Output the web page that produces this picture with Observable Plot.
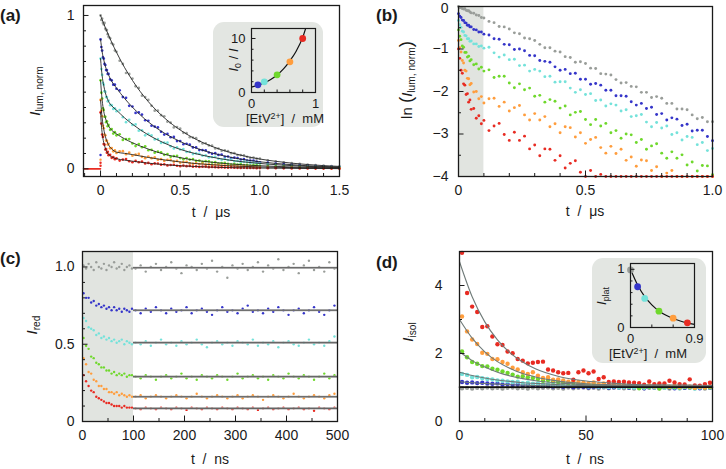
<!DOCTYPE html>
<html><head><meta charset="utf-8">
<script src="https://cdn.jsdelivr.net/npm/d3@7"></script>
<script src="https://cdn.jsdelivr.net/npm/@observablehq/plot@0.6"></script>
<style>
body{margin:0;background:#fff;}
#root{position:relative;width:726px;height:469px;overflow:hidden;background:#fff;font-family:"Liberation Sans",Arial,Helvetica,sans-serif;color:#1a1a1a;}
#root svg{position:absolute;overflow:visible;}
.box{position:absolute;background:#e3e6e2;border-radius:11px;}
.lbl{position:absolute;white-space:nowrap;font-size:14px;line-height:1;transform:translate(-50%,-50%);}
.rot{transform:translate(-50%,-50%) rotate(-90deg);}
.pl{position:absolute;font-weight:bold;font-size:17px;line-height:1;}
.lbl sub{font-size:68%;position:relative;top:0.3em;vertical-align:baseline;}
.lbl sup{font-size:68%;position:relative;top:-0.45em;vertical-align:baseline;}
.big{font-size:125%;}
</style>
</head><body>
<div id="root"></div>
<script>
// ---------- series ----------
const seriesNames = ["grey","blue","cyan","green","orange","red"];
const seriesColors = ["#999d99","#3535c9","#74e2da","#6fd82c","#ff9d3d","#e82b22"];

// ---------- panel (b): ln(I_lum,norm) vs t / µs ----------
const tB = [0,0.005,0.01,0.015,0.02,0.025,0.03,0.035,0.04,0.045,0.05,0.06,0.07,0.08,0.09,0.1,
 0.12,0.14,0.16,0.18,0.2,0.22,0.24,0.26,0.28,0.3,0.32,0.34,0.36,0.38,0.4,
 0.42,0.44,0.46,0.48,0.5,0.52,0.54,0.56,0.58,0.6,0.62,0.64,0.66,0.68,0.7,
 0.72,0.74,0.76,0.78,0.8,0.82,0.84,0.86,0.88,0.9,0.92,0.94,0.96,0.98,1.0];
const lnGrey = [0,-0.03,-0.02,-0.05,-0.06,-0.05,-0.09,-0.10,-0.10,-0.13,-0.15,-0.16,-0.20,-0.21,-0.26,-0.27,
 -0.35,-0.38,-0.47,-0.48,-0.53,-0.62,-0.64,-0.74,-0.76,-0.80,-0.89,-0.97,-0.97,-1.05,-1.07,
 -1.18,-1.20,-1.31,-1.30,-1.34,-1.45,-1.46,-1.58,-1.59,-1.61,-1.72,-1.80,-1.79,-1.88,-1.89,
 -2.02,-2.02,-2.14,-2.12,-2.16,-2.28,-2.28,-2.41,-2.41,-2.43,-2.55,-2.64,-2.61,-2.71,-2.71];
const lnBlue = [-0.17,-0.23,-0.26,-0.32,-0.33,-0.38,-0.39,-0.44,-0.44,-0.48,-0.48,-0.54,-0.55,-0.60,-0.60,-0.65,
 -0.67,-0.76,-0.77,-0.89,-0.90,-1.01,-1.00,-1.04,-1.15,-1.16,-1.27,-1.29,-1.31,-1.42,-1.50,
 -1.48,-1.58,-1.57,-1.71,-1.71,-1.83,-1.81,-1.85,-1.97,-1.97,-2.10,-2.10,-2.11,-2.24,-2.32,
 -2.28,-2.40,-2.37,-2.54,-2.52,-2.67,-2.62,-2.65,-2.80,-2.77,-2.93,-2.91,-2.91,-3.06,-3.16];
const lnCyan = [-0.33,-0.43,-0.49,-0.58,-0.60,-0.68,-0.69,-0.76,-0.76,-0.82,-0.81,-0.88,-0.88,-0.94,-0.93,-0.98,
 -0.96,-1.09,-1.19,-1.14,-1.25,-1.24,-1.39,-1.38,-1.52,-1.48,-1.52,-1.65,-1.64,-1.78,-1.77,
 -1.77,-1.92,-2.02,-1.96,-2.07,-2.05,-2.21,-2.20,-2.34,-2.29,-2.32,-2.46,-2.43,-2.59,-2.57,
 -2.54,-2.72,-2.83,-2.73,-2.86,-2.81,-3.01,-2.97,-3.14,-3.06,-3.08,-3.25,-3.20,-3.39,-3.34];
const lnGreen = [-0.55,-0.70,-0.78,-0.93,-0.96,-1.08,-1.08,-1.19,-1.17,-1.28,-1.25,-1.37,-1.35,-1.47,-1.43,-1.52,
 -1.49,-1.67,-1.64,-1.64,-1.80,-1.91,-1.82,-1.96,-1.92,-2.11,-2.09,-2.25,-2.19,-2.23,-2.39,
 -2.34,-2.55,-2.49,-2.47,-2.66,-2.78,-2.66,-2.81,-2.75,-2.97,-2.92,-3.10,-3.00,-3.02,-3.20,
 -3.13,-3.36,-3.28,-3.23,-3.45,-3.57,-3.42,-3.57,-3.49,-3.73,-3.66,-3.87,-3.74,-3.75,-3.96];
const lnOrange = [-0.80,-0.97,-1.07,-1.27,-1.33,-1.50,-1.52,-1.69,-1.70,-1.84,-1.81,-2.01,-2.00,-2.17,-2.12,-2.27,
 -2.17,-2.16,-2.35,-2.25,-2.46,-2.38,-2.33,-2.55,-2.67,-2.52,-2.67,-2.59,-2.83,-2.76,-2.97,
 -2.83,-2.85,-3.07,-2.97,-3.22,-3.13,-3.08,-3.32,-3.45,-3.29,-3.46,-3.36,-3.62,-3.54,-3.76,
 -3.61,-3.63,-3.86,-3.77,-4.03,-3.92,-3.86,-4.11,-4.24,-4.05,-4.23,-4.12,-4.40,-4.31,-4.54];
const lnRed = [-1.00,-1.22,-1.50,-1.57,-1.82,-1.85,-2.07,-2.05,-2.25,-2.20,-2.42,-2.40,-2.63,-2.57,-2.76,-2.68,
 -2.92,-2.81,-2.75,-3.01,-3.15,-2.96,-3.15,-3.05,-3.35,-3.26,-3.51,-3.35,-3.36,-3.62,-3.51,
 -3.80,-3.69,-3.63,-3.90,-4.05,-3.86,-4.05,-3.95,-4.25,-4.16,-4.41,-4.25,-4.26,-4.52,-4.41,
 -4.5,-4.7,-4.6,-4.8,-4.9,-4.7,-4.9,-5.0,-5.1,-4.9,-5.2,-5.1,-5.2,-5.4,-5.3];
const lnSeries = [lnGrey, lnBlue, lnCyan, lnGreen, lnOrange, lnRed];
const shadeB = [0, 0.1];

// tail of the decays (t > 1 µs), only visible in panel (a)
const tExt = [1.05,1.1,1.15,1.2,1.25,1.3,1.35,1.4,1.45,1.5];
const lnExtGrey = [-2.89,-3.03,-3.16,-3.30,-3.44,-3.58,-3.71,-3.85,-3.99,-4.13];
const lnExtBlue = [-3.22,-3.36,-3.50,-3.63,-3.77,-3.90,-4.04,-4.18,-4.31,-4.45];
const lnExtCyan = [-3.49,-3.62,-3.75,-3.88,-4.01,-4.14,-4.27,-4.40,-4.53,-4.66];
const lnExtGreen = [-4.02,-4.15,-4.27,-4.40,-4.52,-4.65,-4.77,-4.90,-5.02,-5.15];
const lnExtOrange = [-4.52,-4.65,-4.77,-4.90,-5.02,-5.15,-5.27,-5.40,-5.52,-5.65];
const lnExtRed = [-5.5,-5.6,-5.8,-5.9,-6.0,-6.2,-6.3,-6.4,-6.6,-6.7];
const lnExt = [lnExtGrey, lnExtBlue, lnExtCyan, lnExtGreen, lnExtOrange, lnExtRed];

// ---------- panel (a): I_lum,norm, fits ----------
const preT = [-0.107, 0];
const preV = [0, 0];
const riseV = [0.02, 0.04, 0.06, 0.09];
const riseS = [5, 5, 4, 1];
const tFitA = [0,0.005,0.01,0.02,0.03,0.05,0.07,0.1,0.15,0.2,0.3,0.4,0.5,0.6,0.7,0.8,0.9,1.0,1.1,1.2,1.3,1.4,1.5];
const fitGrey = [1,.986,.973,.947,.921,.872,.825,.760,.662,.577,.438,.333,.253,.192,.146,.111,.084,.064,.049,.037,.028,.021,.016];
const fitBlue = [.844,.803,.763,.712,.670,.613,.571,.527,.460,.402,.306,.233,.178,.135,.103,.079,.060,.046,.035,.027,.020,.015,.012];
const fitCyan = [.719,.657,.607,.543,.497,.440,.411,.383,.333,.291,.221,.168,.127,.098,.076,.058,.045,.035,.027,.021,.016,.012,.009];
const fitGreen = [.577,.507,.449,.375,.333,.281,.252,.228,.196,.170,.129,.095,.073,.055,.043,.033,.026,.020,.016,.012,.010,.007,.006];
const fitOrange = [.449,.387,.333,.259,.212,.157,.130,.109,.101,.093,.074,.058,.045,.034,.027,.020,.016,.012,.010,.008,.006,.005,.004];
const fitRed = [.368,.287,.235,.172,.135,.096,.078,.066,.057,.050,.037,.027,.020,.015,.011,.008,.006,.005,.004,.003,.002,.002,.001];
const fitA = [fitGrey, fitBlue, fitCyan, fitGreen, fitOrange, fitRed];

// inset (a): I0/I vs [EtV2+]
const concA = [0.1, 0.2, 0.4, 0.6, 0.8];
const i0A = [1.43, 1.98, 3.28, 5.68, 10.0];
const curveAc = [0,0.1,0.2,0.3,0.4,0.5,0.6,0.7,0.8,0.85];
const curveAv = [1.0,1.34,1.8,2.42,3.25,4.37,5.87,7.7,10.2,12.0];

// ---------- panel (c): I_red vs t / ns ----------
const tC = [2,7,12,17,22,27,32,37,42,47,52,57,62,67,72,77,82,87,92,97,
 104,114,124,134,144,154,164,174,184,194,204,214,224,234,244,254,264,274,284,294,
 304,314,324,334,344,354,364,374,384,394,404,414,424,434,444,454,464,474,484,494];
const cGrey = [1.01,0.99,1.02,1.00,0.98,1.03,1.00,0.99,1.02,0.98,1.01,1.00,1.03,0.99,1.00,1.02,0.98,1.00,1.01,0.99,
 0.99,1.01,0.97,1.00,1.02,0.98,1.00,1.03,0.99,0.96,1.01,1.00,0.98,1.02,0.99,1.04,0.97,1.00,0.93,1.01,
 0.99,1.02,0.98,1.00,1.03,0.97,1.01,0.99,1.05,0.98,1.00,1.02,0.96,1.01,1.04,0.98,1.00,0.97,1.03,0.99];
const cBlue = [0.83,0.80,0.80,0.77,0.78,0.75,0.76,0.74,0.75,0.73,0.74,0.72,0.74,0.72,0.73,0.71,0.73,0.72,0.71,0.73,
 0.72,0.70,0.73,0.71,0.74,0.72,0.70,0.73,0.71,0.72,0.74,0.70,0.72,0.73,0.71,0.69,0.72,0.74,0.71,0.72,
 0.70,0.73,0.75,0.71,0.72,0.70,0.73,0.71,0.74,0.72,0.69,0.72,0.73,0.70,0.72,0.74,0.71,0.69,0.72,0.75];
const cCyan = [0.67,0.65,0.61,0.60,0.59,0.56,0.57,0.54,0.55,0.53,0.54,0.52,0.53,0.51,0.52,0.53,0.50,0.52,0.51,0.50,
 0.51,0.50,0.52,0.49,0.51,0.53,0.50,0.51,0.49,0.52,0.50,0.51,0.53,0.50,0.48,0.51,0.52,0.50,0.51,0.49,
 0.52,0.51,0.50,0.53,0.49,0.51,0.50,0.52,0.48,0.51,0.52,0.50,0.49,0.51,0.53,0.50,0.51,0.49,0.52,0.55];
const cGreen = [0.54,0.49,0.47,0.42,0.41,0.38,0.37,0.35,0.35,0.33,0.33,0.31,0.32,0.30,0.31,0.30,0.31,0.29,0.30,0.30,
 0.29,0.28,0.30,0.29,0.27,0.29,0.30,0.28,0.29,0.31,0.28,0.29,0.27,0.30,0.29,0.28,0.30,0.29,0.27,0.29,
 0.31,0.28,0.29,0.30,0.28,0.29,0.27,0.30,0.29,0.28,0.31,0.29,0.28,0.30,0.29,0.27,0.29,0.31,0.28,0.30];
const cOrange = [0.41,0.37,0.32,0.31,0.27,0.26,0.23,0.23,0.21,0.21,0.19,0.19,0.18,0.19,0.17,0.18,0.17,0.16,0.17,0.16,
 0.16,0.17,0.15,0.16,0.17,0.16,0.15,0.16,0.17,0.16,0.15,0.16,0.18,0.16,0.15,0.16,0.17,0.16,0.15,0.16,
 0.17,0.15,0.16,0.17,0.16,0.14,0.16,0.17,0.16,0.15,0.16,0.18,0.16,0.15,0.16,0.17,0.16,0.15,0.17,0.18];
const cRed = [0.30,0.26,0.23,0.20,0.19,0.16,0.15,0.14,0.13,0.12,0.12,0.11,0.10,0.10,0.10,0.09,0.10,0.09,0.09,0.09,
 0.085,0.08,0.09,0.085,0.08,0.09,0.085,0.08,0.09,0.085,0.075,0.09,0.085,0.08,0.09,0.085,0.08,0.09,0.085,0.08,
 0.09,0.085,0.08,0.09,0.075,0.085,0.09,0.08,0.085,0.09,0.08,0.085,0.09,0.08,0.085,0.07,0.09,0.085,0.08,0.09];
const cSeries = [cGrey, cBlue, cCyan, cGreen, cOrange, cRed];
const shadeC = [0, 100];
const plateauC = [0.995, 0.72, 0.51, 0.29, 0.16, 0.085];
const plateauSpan = [100, 500];

// ---------- panel (d): I_isol vs t / ns ----------
const tD = [1,3,5,7,9,11,13,15,17,19,21,23,25,27,29,31,33,35,37,39,41,43,45,47,49,
 51,53,55,57,59,61,63,65,67,69,71,73,75,77,79,81,83,85,87,89,91,93,95,97,99];
const dGrey = [0.98,0.99,0.97,0.99,0.98,1.00,0.98,0.99,0.97,0.99,1.00,0.98,0.99,0.97,1.00,0.98,0.99,1.00,0.98,0.99,0.97,1.00,0.98,0.99,1.00,
 0.98,0.99,0.97,1.00,0.98,0.99,1.00,0.98,0.99,0.97,1.00,0.98,0.99,1.00,0.98,0.99,0.97,1.00,0.98,0.99,1.00,0.98,0.99,0.97,1.00];
const dBlue = [1.16,1.14,1.15,1.13,1.14,1.12,1.11,1.12,1.09,1.10,1.08,1.09,1.06,1.08,1.05,1.07,1.04,1.05,1.03,1.05,1.02,1.04,1.01,1.03,1.02,
 1.00,1.02,1.01,1.03,0.99,1.01,1.00,1.02,0.99,1.01,1.00,0.98,1.01,1.00,0.99,1.01,1.00,0.98,1.01,0.99,1.00,1.01,0.98,1.00,0.99];
const dCyan = [1.40,1.37,1.30,1.31,1.27,1.25,1.24,1.21,1.20,1.18,1.16,1.17,1.13,1.14,1.11,1.12,1.09,1.10,1.08,1.07,1.08,1.05,1.06,1.04,1.05,
 1.03,1.04,1.02,1.03,1.01,1.03,1.00,1.02,1.01,1.00,1.02,0.99,1.01,1.00,1.02,0.99,1.01,1.00,0.98,1.01,1.00,0.97,1.00,0.99,1.00];
const dGreen = [2.06,1.89,1.75,1.70,1.63,1.62,1.55,1.52,1.47,1.43,1.38,1.32,1.33,1.30,1.28,1.25,1.20,1.22,1.18,1.16,1.15,1.13,1.14,1.10,1.11,
 1.08,1.10,1.06,1.08,1.05,1.07,1.04,1.06,1.03,1.05,0.98,1.03,1.02,1.04,0.97,1.03,1.01,1.02,1.00,1.03,1.01,0.99,1.02,1.00,1.01];
const dOrange = [3.09,2.65,2.41,2.28,2.02,1.99,1.84,1.83,1.75,1.70,1.58,1.53,1.45,1.40,1.45,1.35,1.28,1.30,1.23,1.24,1.21,1.17,1.19,1.16,1.14,
 1.13,1.15,1.10,1.12,1.08,1.11,1.09,1.06,1.10,1.05,1.08,1.04,1.07,1.03,1.06,1.04,1.02,1.05,1.01,1.04,1.03,0.99,1.02,1.00,1.03];
const dRed = [4.96,3.78,3.38,3.22,2.78,2.80,2.50,2.27,2.25,2.06,2.01,1.84,1.79,1.71,1.73,1.75,1.76,1.53,1.50,1.45,1.42,1.43,1.23,1.45,1.50,
 1.42,1.47,1.25,1.30,1.16,1.18,1.16,1.17,1.15,1.14,1.13,1.08,1.18,1.10,1.12,1.12,1.20,1.15,1.10,1.09,1.24,1.06,1.05,1.10,1.14];
const dSeries = [dGrey, dBlue, dCyan, dGreen, dOrange, dRed];
const tFitD = [0,5,10,15,20,25,30,40,50,60,70,80,90,100];
const fitDBlue = [1.17,1.14,1.117,1.098,1.082,1.069,1.058,1.042,1.032,1.025,1.020,1.016,1.014,1.013];
const fitDCyan = [1.45,1.355,1.28,1.22,1.18,1.14,1.12,1.08,1.055,1.04,1.03,1.03,1.02,1.02];
const fitDGreen = [2.05,1.79,1.60,1.45,1.34,1.26,1.20,1.13,1.08,1.06,1.05,1.04,1.03,1.03];
const fitDOrange = [3.0,2.45,2.05,1.76,1.56,1.41,1.31,1.18,1.11,1.08,1.06,1.05,1.04,1.04];
const fitDRed = [4.70,3.67,2.93,2.40,2.02,1.75,1.55,1.31,1.19,1.13,1.09,1.08,1.07,1.06];
const fitD = [fitDBlue, fitDCyan, fitDGreen, fitDOrange, fitDRed];
const baseD = [1.01, 1.01];
const baseDt = [0, 100];

// inset (d): I_plat vs [EtV2+]
const concD = [0, 0.1, 0.2, 0.4, 0.6, 0.8];
const platD = [0.99, 0.70, 0.50, 0.28, 0.16, 0.08];
const curveDc = [0,0.1,0.2,0.3,0.4,0.5,0.6,0.7,0.8,0.9];
const curveDv = [1.0,0.73,0.53,0.39,0.285,0.21,0.155,0.112,0.08,0.055];

// ---------- checks ----------
function check(name, arr, n){ if(arr.length!==n) throw new Error(name+" has "+arr.length+" values, expected "+n); }
lnSeries.forEach((a,i)=>check("ln"+seriesNames[i], a, tB.length));
lnExt.forEach((a,i)=>check("lnExt"+seriesNames[i], a, tExt.length));
fitA.forEach((a,i)=>check("fitA"+i, a, tFitA.length));
cSeries.forEach((a,i)=>check("c"+seriesNames[i], a, tC.length));
dSeries.forEach((a,i)=>check("d"+seriesNames[i], a, tD.length));
fitD.forEach((a,i)=>check("fitD"+i, a, tFitD.length));

// ---------- helpers ----------
const FONT = '"Liberation Sans", Arial, Helvetica, sans-serif';
const INK = "#1a1a1a";
function tickMarks(xMinor, xMajor, yMinor, yMajor, iw, ih, mi=3, ma=5.5) {
  return [
    Plot.tickX(xMinor, {x: d=>d, insetTop: ih - mi, stroke: INK, strokeWidth: 1}),
    Plot.tickX(xMajor, {x: d=>d, insetTop: ih - ma, stroke: INK, strokeWidth: 1}),
    Plot.tickY(yMinor, {y: d=>d, insetRight: iw - mi, stroke: INK, strokeWidth: 1}),
    Plot.tickY(yMajor, {y: d=>d, insetRight: iw - ma, stroke: INK, strokeWidth: 1})
  ];
}
const minus = d => d < 0 ? "\u2212" + String(-d) : String(d);
function place(el, left, top){ el.style.left = left+"px"; el.style.top = top+"px"; root.appendChild(el); }
const root = document.getElementById("root");
const style = (fs)=>({background:"transparent", fontFamily: FONT, fontSize: fs+"px", color: INK, overflow:"visible"});

// ---------- panel (a) ----------
{
  const W=363,H=235,ml=83,mr=24,mt=5,mb=59;
  const rows = lnSeries.map((a,i)=> tB.map((t,j)=>({t, v: Math.exp(a[j])}))
    .concat(tExt.map((t,j)=>({t, v: Math.exp(lnExt[i][j])}))));
  const p = Plot.plot({
    width:W, height:H, marginLeft:ml, marginRight:mr, marginTop:mt, marginBottom:mb,
    x:{domain:[-0.107,1.5]}, y:{domain:[-0.05,1.065]}, style: style(14),
    marks:[
      Plot.line(preT.map((t,i)=>({t, v:preV[i]})), {x:"t", y:"v", stroke:seriesColors[5], strokeWidth:1.6}),
      ...rows.map((r,i)=>Plot.dot(r, {x:"t", y:"v", r:1.35, fill:seriesColors[i]})),
      Plot.dot(riseV.map((v,i)=>({t:0, v, s:riseS[i]})), {x:"t", y:"v", r:1.2, fill:d=>seriesColors[d.s]}),
      ...fitA.map(f=>Plot.line(tFitA.map((t,j)=>({t, v:f[j]})), {x:"t", y:"v", stroke:"#1b1b1b", strokeWidth:1, strokeOpacity:0.85, curve:"monotone-x"})),
      ...tickMarks([-0.1,0.1,0.2,0.3,0.4,0.6,0.7,0.8,0.9,1.1,1.2,1.3,1.4],[0,0.5,1,1.5],
        [0.1,0.2,0.3,0.4,0.5,0.6,0.7,0.8,0.9],[0,1], W-ml-mr, H-mt-mb),
      Plot.axisX({ticks:[0,0.5,1,1.5], tickSize:0, tickPadding:9, fontSize:14, label:null, tickFormat:d=>d===0?"0":d.toFixed(1)}),
      Plot.axisY({ticks:[0,1], tickSize:0, tickPadding:9, fontSize:14, label:null, tickFormat:d=>String(d)}),
      Plot.frame({stroke:INK, strokeWidth:1.3})
    ]
  });
  place(p, 0, 0);
}

// ---------- panel (b) ----------
{
  const W=363,H=235,ml=95,mr=14,mt=6,mb=59;
  const rows = lnSeries.map(a=> tB.map((t,j)=>({t, v: Math.max(a[j], -4)})));
  const p = Plot.plot({
    width:W, height:H, marginLeft:ml, marginRight:mr, marginTop:mt, marginBottom:mb,
    x:{domain:[0,1]}, y:{domain:[-4,0]}, style: style(14),
    marks:[
      Plot.rect([{x1:shadeB[0], x2:shadeB[1]}], {x1:"x1", x2:"x2", fill:"#e1e4e0"}),
      ...rows.map((r,i)=>Plot.dot(r, {x:"t", y:"v", r:1.45, fill:seriesColors[i]})),
      ...tickMarks([0.1,0.2,0.3,0.4,0.6,0.7,0.8,0.9],[0,0.5,1],[-0.5,-1.5,-2.5,-3.5],[0,-1,-2,-3,-4], W-ml-mr, H-mt-mb),
      Plot.axisX({ticks:[0,0.5,1], tickSize:0, tickPadding:9, fontSize:14, label:null, tickFormat:d=>d===0?"0":d.toFixed(1)}),
      Plot.axisY({ticks:[-1,-2,-3,-4], tickSize:0, tickPadding:10, fontSize:14, label:null, tickFormat:minus}),
      Plot.axisY({ticks:[0], tickSize:0, tickPadding:10, fontSize:14, label:null, tickFormat:minus, dy:2}),
      Plot.frame({stroke:INK, strokeWidth:1.3})
    ]
  });
  place(p, 363, 0);
}

// ---------- panel (c) ----------
{
  const W=363,H=234,ml=82,mr=26,mt=16,mb=48;
  const rows = cSeries.map(a=> tC.map((t,j)=>({t, v:a[j]})));
  const p = Plot.plot({
    width:W, height:H, marginLeft:ml, marginRight:mr, marginTop:mt, marginBottom:mb,
    x:{domain:[0,500]}, y:{domain:[0,1.1]}, style: style(14),
    marks:[
      Plot.rect([{x1:shadeC[0], x2:shadeC[1]}], {x1:"x1", x2:"x2", fill:"#e1e4e0"}),
      ...rows.map((r,i)=>Plot.dot(r, {x:"t", y:"v", r:1.2, fill:seriesColors[i]})),
      Plot.ruleY(plateauC, {y:d=>d, x1:plateauSpan[0], x2:plateauSpan[1], stroke:"#a8a8a8", strokeWidth:2.2}),
      Plot.ruleY(plateauC, {y:d=>d, x1:plateauSpan[0], x2:plateauSpan[1], stroke:"#3a3a3a", strokeWidth:0.7}),
      ...tickMarks([50,150,250,350,450],[0,100,200,300,400,500],[0.1,0.2,0.3,0.4,0.6,0.7,0.8,0.9],[0,0.5,1], W-ml-mr, H-mt-mb),
      Plot.axisX({ticks:[0,100,200,300,400,500], tickSize:0, tickPadding:9, fontSize:14, label:null, tickFormat:d=>String(d)}),
      Plot.axisY({ticks:[0,0.5,1], tickSize:0, tickPadding:8, fontSize:14, label:null, tickFormat:d=>d===0?"0":d.toFixed(1)}),
      Plot.frame({stroke:INK, strokeWidth:1.3})
    ]
  });
  place(p, 0, 235);
}

// ---------- panel (d) ----------
{
  const W=363,H=234,ml=96,mr=14,mt=16,mb=48;
  const rows = dSeries.map(a=> tD.map((t,j)=>({t, v:a[j]})));
  const p = Plot.plot({
    width:W, height:H, marginLeft:ml, marginRight:mr, marginTop:mt, marginBottom:mb,
    x:{domain:[0,100]}, y:{domain:[0,5]}, style: style(14),
    marks:[
      ...rows.map((r,i)=>Plot.dot(r, {x:"t", y:"v", r:2.2, fill:seriesColors[i]})),
      ...fitD.map(f=>Plot.line(tFitD.map((t,j)=>({t, v:f[j]})), {x:"t", y:"v", stroke:"#6f7a78", strokeWidth:1.1, curve:"monotone-x"})),
      Plot.line(baseDt.map((t,i)=>({t, v:baseD[i]})), {x:"t", y:"v", stroke:"#111", strokeWidth:1.6}),
      ...tickMarks([10,20,30,40,60,70,80,90],[0,50,100],[1,3],[0,2,4], W-ml-mr, H-mt-mb),
      Plot.axisX({ticks:[0,50,100], tickSize:0, tickPadding:9, fontSize:14, label:null, tickFormat:d=>String(d)}),
      Plot.axisY({ticks:[0,2,4], tickSize:0, tickPadding:17, fontSize:14, label:null, tickFormat:d=>String(d)}),
      Plot.frame({stroke:INK, strokeWidth:1.3})
    ]
  });
  place(p, 363, 235);
}

// ---------- inset boxes ----------
function box(l,t,w,h){ const d=document.createElement("div"); d.className="box"; d.style.width=w+"px"; d.style.height=h+"px"; place(d,l,t); }
box(213,22,110,105);
box(592,258,114,105);

// ---------- inset (a) ----------
{
  const W=110,H=105,ml=38,mr=8,mt=6,mb=35;
  const p = Plot.plot({
    width:W, height:H, marginLeft:ml, marginRight:mr, marginTop:mt, marginBottom:mb,
    x:{domain:[0,1]}, y:{domain:[0,11.85]}, style: style(13),
    marks:[
      Plot.line(curveAc.map((c,i)=>({c, v:curveAv[i]})), {x:"c", y:"v", stroke:"#111", strokeWidth:1.2, curve:"monotone-x", clip:true}),
      Plot.dot(concA.map((c,i)=>({c, v:i0A[i], k:i+1})), {x:"c", y:"v", r:3.4, fill:d=>seriesColors[d.k]}),
      ...tickMarks([0.2,0.4,0.6,0.8],[0,1],[2,4,6,8],[0,10], W-ml-mr, H-mt-mb, 2.5, 4.5),
      Plot.axisX({ticks:[0,1], tickSize:0, tickPadding:6, fontSize:13, label:null, tickFormat:d=>String(d)}),
      Plot.axisY({ticks:[0,10], tickSize:0, tickPadding:6, fontSize:13, label:null, tickFormat:d=>String(d)}),
      Plot.frame({stroke:INK, strokeWidth:1.2})
    ]
  });
  place(p, 213, 22);
}

// ---------- inset (d) ----------
{
  const W=114,H=105,ml=38,mr=12,mt=5,mb=36;
  const p = Plot.plot({
    width:W, height:H, marginLeft:ml, marginRight:mr, marginTop:mt, marginBottom:mb,
    x:{domain:[0,0.9]}, y:{domain:[0,1.1]}, style: style(13),
    marks:[
      Plot.line(curveDc.map((c,i)=>({c, v:curveDv[i]})), {x:"c", y:"v", stroke:"#111", strokeWidth:1.2, curve:"monotone-x"}),
      Plot.dot(concD.map((c,i)=>({c, v:platD[i], k:i})), {x:"c", y:"v", r:3.4, fill:d=>seriesColors[d.k]}),
      ...tickMarks([0.3,0.6],[0,0.9],[0.2,0.4,0.6,0.8],[0,1], W-ml-mr, H-mt-mb, 2.5, 4.5),
      Plot.axisX({ticks:[0,0.9], tickSize:0, tickPadding:6, fontSize:13, label:null, tickFormat:d=>String(d)}),
      Plot.axisY({ticks:[0,1], tickSize:0, tickPadding:6, fontSize:13, label:null, tickFormat:d=>String(d)}),
      Plot.frame({stroke:INK, strokeWidth:1.2})
    ]
  });
  place(p, 592, 258);
}

// ---------- text labels ----------
function label(html, l, t, cls, fs){ const d=document.createElement("div"); d.className=cls; d.innerHTML=html; if(fs) d.style.fontSize=fs+"px"; place(d,l,t); }
label("(a)", 0, 7, "pl");
label("(b)", 376, 7, "pl");
label("(c)", 0, 250, "pl");
label("(d)", 376, 254, "pl");
label("<i>I</i><sub>lum, norm</sub>", 35, 91, "lbl rot", 15);
label("ln <span class='big'>(</span><i>I</i><sub>lum, norm</sub><span class='big'>)</span>", 406, 80, "lbl rot", 15);
label("<i>I</i><sub>red</sub>", 32, 325, "lbl rot", 15);
label("<i>I</i><sub>isol</sub>", 408, 332, "lbl rot", 15);
label("t&nbsp; / &nbsp;\u03bcs", 211, 212, "lbl", 14);
label("t&nbsp; / &nbsp;\u03bcs", 585, 211, "lbl", 14);
label("t&nbsp; / &nbsp;ns", 210, 459, "lbl", 14);
label("t&nbsp; / &nbsp;ns", 585, 459, "lbl", 14);
label("<i>I</i><sub>0</sub> / <i>I</i>", 233, 60, "lbl rot", 13);
label("<i>I</i><sub>plat</sub>", 601, 296, "lbl rot", 13);
label("[EtV<sup>2+</sup>] &nbsp;/ &nbsp;mM", 285, 118, "lbl", 13);
label("[EtV<sup>2+</sup>] &nbsp;/ &nbsp;mM", 648, 353, "lbl", 13);
</script>
</body></html>
